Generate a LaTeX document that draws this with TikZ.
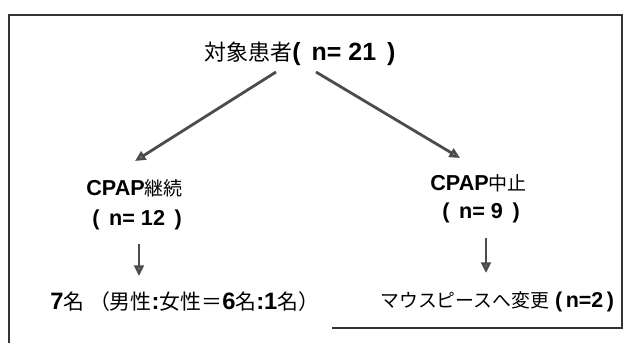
\documentclass[tikz,border=0pt]{standalone}
\usepackage{fontspec}
\setmainfont{Liberation Sans}
\newfontfamily\jpfont[Scale=0.88]{Noto Sans CJK JP}
\newcommand{\jp}[1]{{\jpfont\mdseries #1}}
\usepackage{tikz}
\usetikzlibrary{positioning}
\usetikzlibrary{arrows.meta}
\pgfdeclarelayer{nodelayer}
\pgfdeclarelayer{edgelayer}
\pgfsetlayers{nodelayer,edgelayer,main}
\tikzset{
    none/.style = {inner sep=0pt},
    title/.style = {inner sep=0pt, font=\bfseries\fontsize{14.2}{16}\selectfont},
    label/.style = {inner sep=0pt, anchor=west, font=\bfseries\fontsize{12.3}{14}\selectfont},
    result/.style = {inner sep=0pt, anchor=west, font=\bfseries\fontsize{13.5}{15}\selectfont},
    result2/.style = {inner sep=0pt, anchor=west, font=\bfseries\fontsize{12.2}{14}\selectfont},
    flow/.style = {draw=black!70, line width=1.6pt,
                   -{Triangle[length=6pt,width=5.5pt,fill=gray!55]}},
    frame/.style = {draw=black!80, line width=0.8pt}
}

\begin{document}
\begin{tikzpicture}[x=0.5cm,y=0.5cm]
  \useasboundingbox (0,0) rectangle (25,13.72);
  \begin{pgfonlayer}{nodelayer}
    \node [style=title] (0) at (12, 11.56) {\jp{対象患者}( \,n= 21 \,)};
    \node [style=label] (1) at (3.44, 6.2) {CPAP\jp{継続}};
    \node [style=label] (2) at (3.68, 4.92) {( \,n= 12 \,)};
    \node [style=label] (3) at (17.2, 6.4) {CPAP\jp{中止}};
    \node [style=label] (4) at (17.68, 5.2) {( \,n= 9 \,)};
    \node [style=result] (5) at (2.0, 1.64) {7\jp{名 （男性}:\jp{女性＝}6\jp{名}:1\jp{名）}};
    \node [style=result2] (6) at (15.2, 1.64) {\jp{マウスピースへ変更} (\,n=2\,)};
    \coordinate (7) at (11.04, 10.84);
    \coordinate (8) at (5.4, 7.28);
    \coordinate (9) at (12.64, 10.84);
    \coordinate (10) at (18.4, 7.4);
    \coordinate (11) at (5.56, 3.96);
    \coordinate (12) at (5.56, 2.68);
    \coordinate (13) at (19.44, 4.2);
    \coordinate (14) at (19.44, 2.8);
  \end{pgfonlayer}
  \begin{pgfonlayer}{edgelayer}
    \draw [style=flow] (7) to (8);
    \draw [style=flow] (9) to (10);
    \draw [style=flow] (11) to (12);
    \draw [style=flow] (13) to (14);
    % frame, its lower left part is missing
    \draw [style=frame] (0.36, 0) -- (0.36, 13.12) -- (24.88, 13.12) -- (24.88, 0.6) -- (13.28, 0.6);
  \end{pgfonlayer}
\end{tikzpicture}
\end{document}
